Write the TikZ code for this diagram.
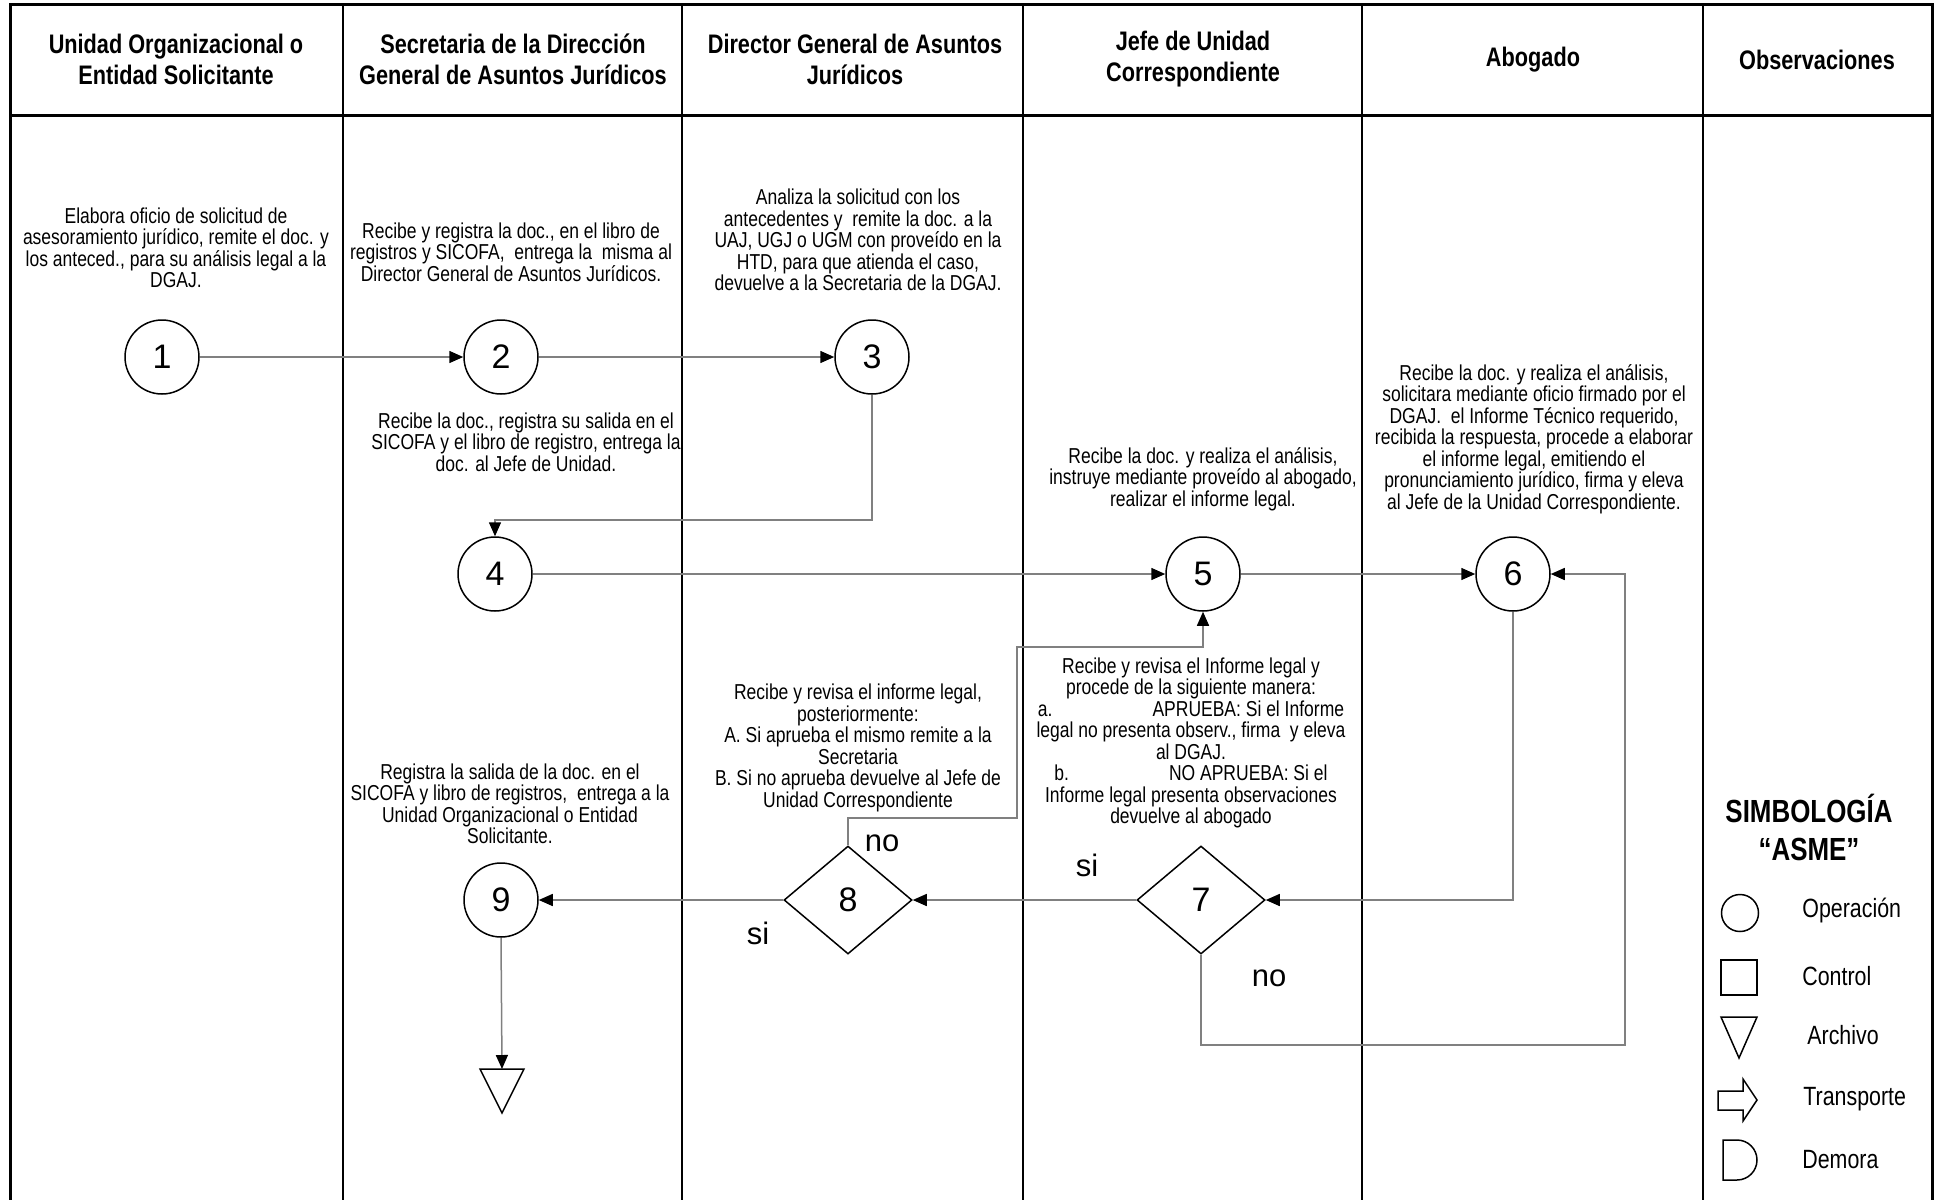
\documentclass[tikz,border=0pt]{standalone}
\usepackage{fontspec}
\setmainfont{Liberation Sans}
\newfontfamily\narrowfont[FakeStretch=0.81]{Liberation Sans}
\usetikzlibrary{arrows.meta,shapes.geometric,calc}
\begin{document}
\begin{tikzpicture}[x=0.5pt,y=-0.5pt,
 lane/.style={line width=1pt},
 frame/.style={line width=1.5pt},
 conn/.style={draw=black!50, line width=0.75pt},
 arr/.style={conn,-{Triangle[length=7pt,width=6pt,color=black]}},
 op/.style={circle,draw,fill=white,line width=0.75pt,minimum size=37pt,inner sep=0pt,font=\fontsize{17}{17}\selectfont},
 dec/.style={diamond,draw,fill=white,line width=0.75pt,minimum width=64pt,minimum height=54pt,inner sep=0pt,font=\fontsize{17}{17}\selectfont},
 hdr/.style={align=center,inner sep=0pt,font=\narrowfont\bfseries\fontsize{13.4}{15.5}\selectfont},
 desc/.style={align=center,inner sep=0pt,font=\narrowfont\fontsize{10.8}{10.75}\selectfont},
 lbl/.style={inner sep=0pt,font=\fontsize{15.5}{15.5}\selectfont},
 leg/.style={anchor=west,inner sep=0pt,font=\narrowfont\fontsize{13.2}{13.2}\selectfont},
 legshape/.style={draw,line width=0.75pt}
]
\useasboundingbox (0,0) rectangle (1935,1200);
\fill[white] (0,0) rectangle (1935,1200);

% frame and lanes
\draw[frame] (10,1200) -- (10,4) -- (1932,4) -- (1932,1200);
\draw[frame] (10,115) -- (1932,115);
\foreach \xx in {343,682,1023,1362,1703} {\draw[lane] (\xx,4) -- (\xx,1200);}

% headers
\node[hdr] (h1) at (176,59) {Unidad Organizacional o\\Entidad Solicitante};
\node[hdr] (h2) at (513,59) {Secretaria de la Dirección\\General de Asuntos Jurídicos};
\node[hdr] (h3) at (855,59) {Director General de Asuntos\\Jurídicos};
\node[hdr] (h4) at (1193,59) {Jefe de Unidad\\Correspondiente};
\node[hdr] (h5) at (1533,60) {Abogado};
\node[hdr] (h6) at (1817,60) {Observaciones};

% descriptions
\node[desc] (t1) at (176,248) {Elabora oficio de solicitud de\\asesoramiento jurídico, remite el doc. y\\los anteced., para su análisis legal a la\\DGAJ.};
\node[desc] (t2a) at (511,252) {Recibe y registra la doc., en el libro de\\registros y SICOFA,\ \ entrega la\ \ misma al\\Director General de Asuntos Jurídicos.};
\node[desc] (t3a) at (858,240) {Analiza la solicitud con los\\antecedentes y\ \ remite la doc. a la\\UAJ, UGJ o UGM con proveído en la\\HTD, para que atienda el caso,\\devuelve a la Secretaria de la DGAJ.};
\node[desc] (t2b) at (526,442) {Recibe la doc., registra su salida en el\\SICOFA y el libro de registro, entrega la\\doc. al Jefe de Unidad.};
\node[desc] (t4a) at (1203,479) {Recibe la doc. y realiza el análisis,\\instruye mediante proveído al abogado,\\realizar el informe legal.};
\node[desc] (t5) at (1534,439) {Recibe la doc. y realiza el análisis,\\solicitara mediante oficio firmado por el\\DGAJ.\ \ el Informe Técnico requerido,\\recibida la respuesta, procede a elaborar\\el informe legal, emitiendo el\\pronunciamiento jurídico, firma y eleva\\al Jefe de la Unidad Correspondiente.};
\node[desc] (t3b) at (858,748) {Recibe y revisa el informe legal,\\posteriormente:\\A. Si aprueba el mismo remite a la\\Secretaria\\B. Si no aprueba devuelve al Jefe de\\Unidad Correspondiente};
\node[desc] (t4b) at (1191,743) {Recibe y revisa el Informe legal y\\procede de la siguiente manera:\\a.\hspace{50pt}APRUEBA: Si el Informe\\legal no presenta observ., firma\ \ y eleva\\al DGAJ.\\b.\hspace{50pt}NO APRUEBA: Si el\\Informe legal presenta observaciones\\devuelve al abogado};
\node[desc] (t2c) at (510,804) {Registra la salida de la doc. en el\\SICOFA y libro de registros,\ \ entrega a la\\Unidad Organizacional o Entidad\\Solicitante.};

% process nodes
\node[op] (c1) at (162,357) {1};
\node[op] (c2) at (501,357) {2};
\node[op] (c3) at (872,357) {3};
\node[op] (c4) at (495,574) {4};
\node[op] (c5) at (1203,574) {5};
\node[op] (c6) at (1513,574) {6};
\node[dec] (d7) at (1201,900) {7};
\node[dec] (d8) at (848,900) {8};
\node[op] (c9) at (501,900) {9};
\draw[line width=0.75pt] (480,1069) -- (524,1069) -- (502,1113) -- cycle;
\coordinate (arch) at (502,1069);

% bend points
\coordinate (b1) at (495,520);
\coordinate (b2) at (1017,818);
\coordinate (b3) at (1017,647);
\coordinate (b4) at (1625,1045);

% connectors
\draw[arr] (c1) -- (c2);
\draw[arr] (c2) -- (c3);
\draw[arr] (c3.south) |- (b1) -- (c4.north);
\draw[arr] (c4) -- (c5);
\draw[arr] (c5) -- (c6);
\draw[arr] (c6.south) |- (d7.east);
\draw[arr] (d7.west) -- (d8.east);
\draw[arr] (d8.west) -- (c9.east);
\draw[arr] (d8.north) |- (b2) -- (b3) -| (c5.south);
\draw[arr] (d7.south) |- (b4) |- (c6.east);
\draw[arr] (c9.south) -- (arch);

% branch labels
\node[lbl] (l8no) at (882,843) {no};
\node[lbl] (l8si) at (758,933) {si};
\node[lbl] (l7si) at (1087,865) {si};
\node[lbl] (l7no) at (1269,978) {no};

% legend
\node[align=center,inner sep=0pt,font=\narrowfont\bfseries\fontsize{16}{19}\selectfont] (legt) at (1809,827) {SIMBOLOGÍA\\“ASME”};
\node[circle,legshape,minimum size=18.5pt,inner sep=0pt] (lgop) at (1740,913) {};
\node[legshape,minimum width=18pt,minimum height=17.5pt,inner sep=0pt] (lgct) at (1739,977.5) {};
\draw[legshape] (1721,1017) -- (1757,1017) -- (1739,1058) -- cycle;
\draw[legshape] (1718,1091) -- (1743,1091) -- (1743,1079) -- (1757,1100) -- (1743,1121) -- (1743,1110) -- (1718,1110) -- cycle;
\draw[legshape] (1723,1140) -- (1737,1140) arc[start angle=90,end angle=-90,radius=10pt] -- (1723,1180) -- cycle;
\node[leg] (lg1) at (1802,911) {Operación};
\node[leg] (lg2) at (1802,976) {Control};
\node[leg] (lg3) at (1807,1035) {Archivo};
\node[leg] (lg4) at (1803,1099) {Transporte};
\node[leg] (lg5) at (1802,1160) {Demora};
\end{tikzpicture}
\end{document}
